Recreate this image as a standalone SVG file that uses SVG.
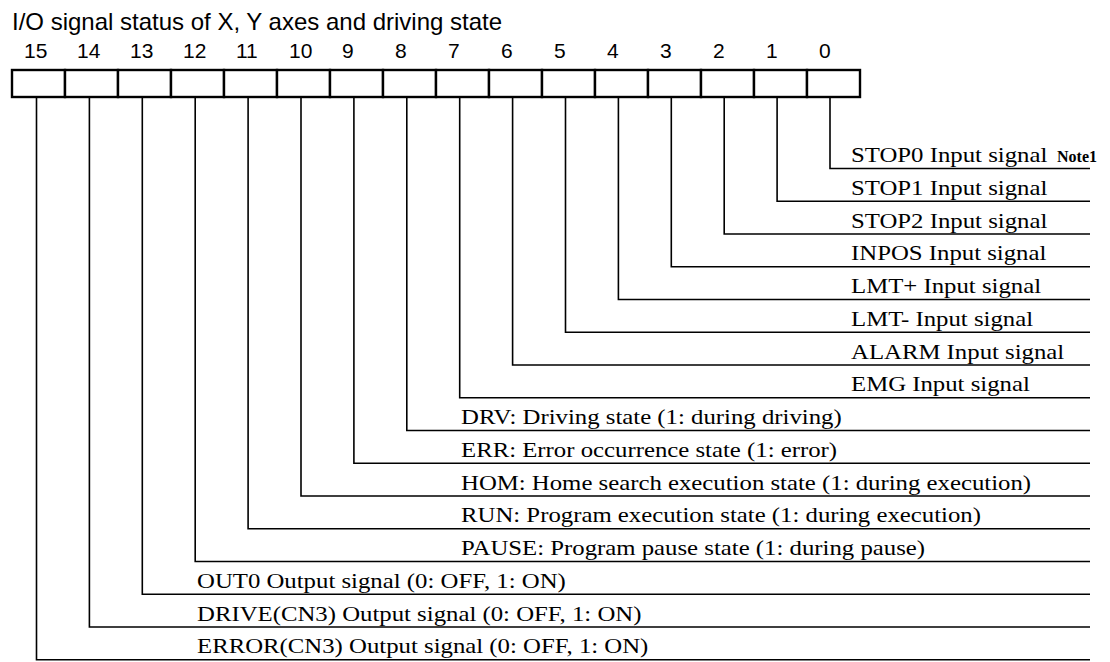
<svg xmlns="http://www.w3.org/2000/svg" width="1110" height="662" viewBox="0 0 1110 662">
<style>
.bg{fill:#fff}
.cell{fill:#fff;stroke:#000;stroke-width:2.4}
.num{font-family:"Liberation Sans",Arial,sans-serif;font-size:21px;fill:#000}
.title{font-family:"Liberation Sans",Arial,sans-serif;font-size:24px;fill:#000}
.lbl{font-family:"Liberation Serif","Times New Roman",serif;font-size:21px;fill:#000}
.note{font-family:"Liberation Serif","Times New Roman",serif;font-size:16px;font-weight:bold;fill:#000}
.wire{fill:none;stroke:#000;stroke-width:1.6}
</style>
<rect class="bg" x="0" y="0" width="1110" height="662"/>
<text class="title" x="12" y="30">I/O signal status of X, Y axes and driving state</text>
<g id="connectors">
<path class="wire" d="M830 97V168.5H1090"/>
<path class="wire" d="M777.1 97V201.3H1090"/>
<path class="wire" d="M724.2 97V234H1090"/>
<path class="wire" d="M671.3 97V266.8H1090"/>
<path class="wire" d="M618.4 97V299.5H1090"/>
<path class="wire" d="M565.5 97V332.3H1090"/>
<path class="wire" d="M512.6 97V365H1090"/>
<path class="wire" d="M459.7 97V397.8H1090"/>
<path class="wire" d="M406.8 97V430.5H1090"/>
<path class="wire" d="M353.9 97V463.3H1090"/>
<path class="wire" d="M301 97V496H1090"/>
<path class="wire" d="M248.1 97V528.8H1090"/>
<path class="wire" d="M195.2 97V561.5H1090"/>
<path class="wire" d="M142.3 97V594.3H1090"/>
<path class="wire" d="M89.4 97V627H1090"/>
<path class="wire" d="M36.5 97V659.8H1090"/>
</g>
<g id="bit15"><rect class="cell" x="12" y="70" width="53" height="27"/><text class="num" x="24" y="58">15</text><text class="lbl" transform="translate(197 653.3) scale(1.18 1)">ERROR(CN3) Output signal (0: OFF, 1: ON)</text></g>
<g id="bit14"><rect class="cell" x="65" y="70" width="53" height="27"/><text class="num" x="77" y="58">14</text><text class="lbl" transform="translate(197 620.5) scale(1.18 1)">DRIVE(CN3) Output signal (0: OFF, 1: ON)</text></g>
<g id="bit13"><rect class="cell" x="118" y="70" width="53" height="27"/><text class="num" x="130" y="58">13</text><text class="lbl" transform="translate(197 587.8) scale(1.18 1)">OUT0 Output signal (0: OFF, 1: ON)</text></g>
<g id="bit12"><rect class="cell" x="171" y="70" width="53" height="27"/><text class="num" x="183" y="58">12</text><text class="lbl" transform="translate(461 555) scale(1.18 1)">PAUSE: Program pause state (1: during pause)</text></g>
<g id="bit11"><rect class="cell" x="224" y="70" width="53" height="27"/><text class="num" x="236" y="58">11</text><text class="lbl" transform="translate(461 522.3) scale(1.18 1)">RUN: Program execution state (1: during execution)</text></g>
<g id="bit10"><rect class="cell" x="277" y="70" width="53" height="27"/><text class="num" x="289" y="58">10</text><text class="lbl" transform="translate(461 489.5) scale(1.18 1)">HOM: Home search execution state (1: during execution)</text></g>
<g id="bit9"><rect class="cell" x="330" y="70" width="53" height="27"/><text class="num" x="342" y="58">9</text><text class="lbl" transform="translate(461 456.8) scale(1.18 1)">ERR: Error occurrence state (1: error)</text></g>
<g id="bit8"><rect class="cell" x="383" y="70" width="53" height="27"/><text class="num" x="395" y="58">8</text><text class="lbl" transform="translate(461 424) scale(1.18 1)">DRV: Driving state (1: during driving)</text></g>
<g id="bit7"><rect class="cell" x="436" y="70" width="53" height="27"/><text class="num" x="448" y="58">7</text><text class="lbl" transform="translate(851 391.3) scale(1.18 1)">EMG Input signal</text></g>
<g id="bit6"><rect class="cell" x="489" y="70" width="53" height="27"/><text class="num" x="501" y="58">6</text><text class="lbl" transform="translate(851 358.5) scale(1.18 1)">ALARM Input signal</text></g>
<g id="bit5"><rect class="cell" x="542" y="70" width="53" height="27"/><text class="num" x="554" y="58">5</text><text class="lbl" transform="translate(851 325.8) scale(1.18 1)">LMT- Input signal</text></g>
<g id="bit4"><rect class="cell" x="595" y="70" width="53" height="27"/><text class="num" x="607" y="58">4</text><text class="lbl" transform="translate(851 293) scale(1.18 1)">LMT+ Input signal</text></g>
<g id="bit3"><rect class="cell" x="648" y="70" width="53" height="27"/><text class="num" x="660" y="58">3</text><text class="lbl" transform="translate(851 260.3) scale(1.18 1)">INPOS Input signal</text></g>
<g id="bit2"><rect class="cell" x="701" y="70" width="53" height="27"/><text class="num" x="713" y="58">2</text><text class="lbl" transform="translate(851 227.5) scale(1.18 1)">STOP2 Input signal</text></g>
<g id="bit1"><rect class="cell" x="754" y="70" width="53" height="27"/><text class="num" x="766" y="58">1</text><text class="lbl" transform="translate(851 194.8) scale(1.18 1)">STOP1 Input signal</text></g>
<g id="bit0"><rect class="cell" x="807" y="70" width="53" height="27"/><text class="num" x="819" y="58">0</text><text class="lbl" transform="translate(851 162) scale(1.18 1)">STOP0 Input signal</text><text class="note" x="1057" y="162">Note1</text></g>
</svg>
